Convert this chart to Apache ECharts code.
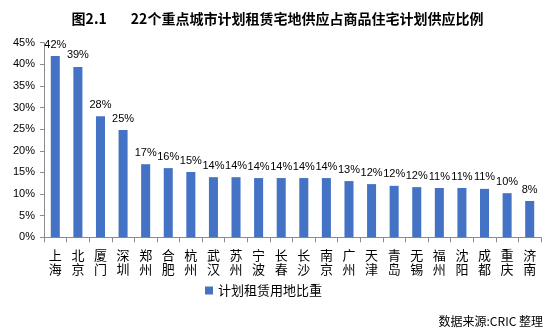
<!DOCTYPE html>
<html><head><meta charset="utf-8">
<script src="https://cdn.jsdelivr.net/npm/echarts@6/dist/echarts.min.js"></script>
<style>html,body{margin:0;padding:0;background:#fff}#c{width:555px;height:331px}</style>
</head><body><div id="c"></div>
<script>
const categories = ['上海','北京','厦门','深圳','郑州','合肥','杭州','武汉','苏州','宁波','长春','长沙','南京','广州','天津','青岛','无锡','福州','沈阳','成都','重庆','济南'];
const values = [41.9,39.4,28.0,24.8,16.9,16.0,15.1,13.9,13.9,13.7,13.7,13.7,13.7,13.0,12.3,11.9,11.6,11.4,11.4,11.2,10.2,8.4];
const yTicks = [0,5,10,15,20,25,30,35,40,45];
const seriesName = '计划租赁用地比重';
const titleText = '图2.1\u3000\u2002 22个重点城市计划租赁宅地供应占商品住宅计划供应比例';
const sourceText = '数据来源:CRIC 整理';

const chart = echarts.init(document.getElementById('c'), null, {renderer:'canvas'});
chart.setOption({
  animation:false,
  title:{text:titleText,left:'center',top:7,textStyle:{fontSize:14,fontWeight:'bold',color:'#000',fontFamily:'Noto Sans CJK SC'}},
  graphic:[{type:'text',right:12,bottom:4,style:{text:sourceText,fontSize:12,fill:'#000',fontFamily:'Noto Sans CJK SC'}}],
  legend:{data:[seriesName],left:200,top:279,itemWidth:8,itemHeight:8,itemGap:4,icon:'rect',textStyle:{fontSize:13,color:'#000',fontFamily:'Noto Sans CJK SC'}},
  grid:{left:44,right:14,top:42.7,bottom:93.7,containLabel:false},
  xAxis:{type:'category',data:categories,
    axisLine:{lineStyle:{color:'#8c8c8c'}},
    axisTick:{show:true,length:5,lineStyle:{color:'#8c8c8c'}},
    axisLabel:{interval:0,margin:11,fontSize:13,lineHeight:14,color:'#000',fontFamily:'Noto Sans CJK SC',formatter:v=>v.split('').join('\n')}},
  yAxis:{type:'value',min:yTicks[0],max:yTicks[yTicks.length-1],interval:yTicks[1]-yTicks[0],
    axisLine:{show:true,lineStyle:{color:'#8c8c8c'}},
    axisTick:{show:true,length:4,lineStyle:{color:'#8c8c8c'}},
    splitLine:{show:false},
    axisLabel:{fontSize:11,color:'#000',margin:9,fontFamily:'Liberation Sans',formatter:v=>v+'%'}},
  series:[{name:seriesName,type:'bar',data:values,barWidth:'40%',itemStyle:{color:'#4472C4'},
    label:{show:true,position:'top',distance:6,fontSize:11,color:'#000',fontFamily:'Liberation Sans',formatter:p=>Math.round(p.value)+'%'}}]
});
</script></body></html>
